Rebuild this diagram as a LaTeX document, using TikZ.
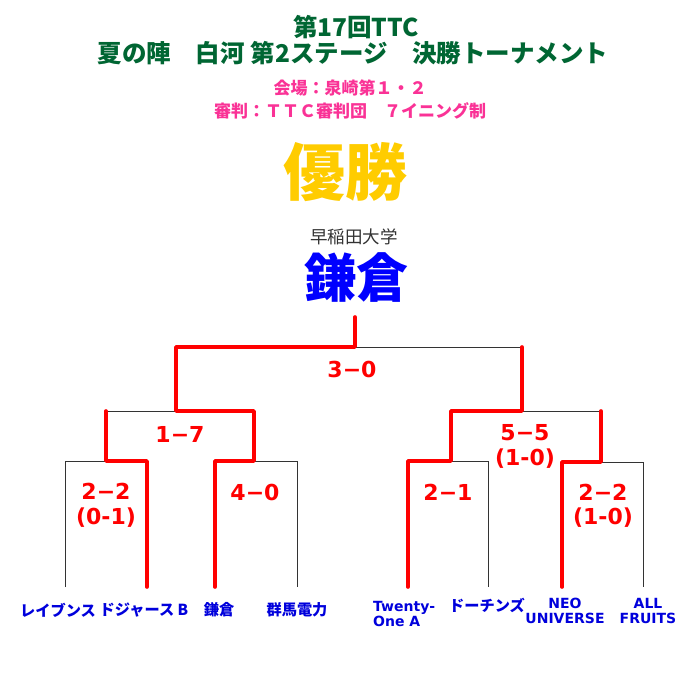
\documentclass[tikz,border=0pt]{standalone}
\usepackage{fontspec}
\newfontfamily\jp{Noto Sans CJK JP}
\newfontfamily\dv{DejaVu Sans}
\definecolor{ttlgreen}{RGB}{0,102,51}
\definecolor{ttlpink}{RGB}{250,50,150}
\definecolor{gold}{RGB}{255,204,0}
\definecolor{champblue}{RGB}{0,0,255}
\definecolor{teamblue}{RGB}{0,0,220}
\definecolor{winred}{RGB}{255,0,0}
\tikzset{
  bk/.style={draw=black!80, line width=0.8pt},
  rd/.style={draw=winred, line width=3.6pt, line cap=round, line join=round},
  score/.style={text=winred, font=\dv\bfseries\fontsize{22}{24}\selectfont, anchor=base, inner sep=0pt},
  teamjp/.style={text=teamblue, font=\jp\bfseries\fontsize{15.2}{16}\selectfont, inner sep=0pt},
  teamlat/.style={text=teamblue, font=\dv\bfseries\fontsize{14}{15}\selectfont, inner sep=0pt},
}
\begin{document}
\begin{tikzpicture}[x=1pt,y=-1pt]
\fill[white] (0,0) rectangle (700,700);
\useasboundingbox (0,0) rectangle (700,700);
% titles
\node[inner sep=0pt, text=ttlgreen, font=\jp\bfseries\fontsize{24.5}{26}\selectfont] (t1) at (356,27) {第17回TTC};
\node[inner sep=0pt, text=ttlgreen, font=\jp\bfseries\fontsize{24.5}{26}\selectfont] (t2) at (353,53) {夏の陣　白河 第2ステージ　決勝トーナメント};
\node[inner sep=0pt, text=ttlpink, font=\jp\bfseries\fontsize{17}{18}\selectfont] (p1) at (350,88) {会場：泉崎第１・２};
\node[inner sep=0pt, text=ttlpink, font=\jp\bfseries\fontsize{17}{18}\selectfont] (p2) at (350,111) {審判：ＴＴＣ審判団　７イニング制};
\node[inner sep=0pt, text=gold, font=\jp\bfseries\fontsize{62}{64}\selectfont] (win) at (345,172) {優勝};
\node[inner sep=0pt, text=black!80, font=\jp\fontsize{17.5}{19}\selectfont] (univ) at (354,237) {早稲田大学};
\node[inner sep=0pt, text=champblue, font=\jp\bfseries\fontsize{52}{54}\selectfont] (champ) at (356,278) {鎌倉};
% bracket coordinates
\coordinate (a1) at (65,587);  \coordinate (a1t) at (65,461);
\coordinate (a2) at (147,587); \coordinate (a2t) at (147,461);
\coordinate (a3) at (215,587); \coordinate (a3t) at (215,461);
\coordinate (a4) at (297,587); \coordinate (a4t) at (297,461);
\coordinate (a5) at (408,587); \coordinate (a5t) at (408,461);
\coordinate (a6) at (488,587); \coordinate (a6t) at (488,461);
\coordinate (a7) at (562,587); \coordinate (a7t) at (562,462);
\coordinate (a8) at (643,587); \coordinate (a8t) at (643,462);
\coordinate (m1) at (106,461); \coordinate (m1t) at (106,411);
\coordinate (m2) at (254,461); \coordinate (m2t) at (254,411);
\coordinate (m3) at (451,461); \coordinate (m3t) at (451,411);
\coordinate (m4) at (601,462); \coordinate (m4t) at (601,411);
\coordinate (s1) at (176,411); \coordinate (s1t) at (176,347);
\coordinate (s2) at (522,411); \coordinate (s2t) at (522,347);
\coordinate (f) at (355,347);  \coordinate (ft) at (355,317);
% black bracket
\draw[bk] (a1) -- (a1t) -- (a2t) -- (a2);
\draw[bk] (a3) -- (a3t) -- (a4t) -- (a4);
\draw[bk] (a5) -- (a5t) -- (a6t) -- (a6);
\draw[bk] (a7) -- (a7t) -- (a8t) -- (a8);
\draw[bk] (m1) -- (m1t) -- (m2t) -- (m2);
\draw[bk] (m3) -- (m3t) -- (m4t) -- (m4);
\draw[bk] (s1) -- (s1t) -- (s2t) -- (s2);
\draw[bk] (f) -- (ft);
% red winner paths
\draw[rd] (a2) -- (a2t) -- (m1) -- (m1t);
\draw[rd] (a3) -- (a3t) -- (m2) -- (m2t) -- (s1) -- (s1t) -- (f) -- (ft);
\draw[rd] (a5) -- (a5t) -- (m3) -- (m3t) -- (s2) -- (s2t);
\draw[rd] (a7) -- (a7t) -- (m4) -- (m4t);
% scores
\node[score] (sc0) at (352,377) {3−0};
\node[score] (sc1) at (180,442) {1−7};
\node[score] (sc2) at (525,440) {5−5};
\node[score] (sc2b) at (525,465) {(1-0)};
\node[score] (sc3) at (106,499) {2−2};
\node[score] (sc3b) at (106,524) {(0-1)};
\node[score] (sc4) at (255,500) {4−0};
\node[score] (sc5) at (448,500) {2−1};
\node[score] (sc6) at (603,500) {2−2};
\node[score] (sc6b) at (603,524) {(1-0)};
% teams
\node[teamjp] (n1) at (58,610) {レイブンス};
\node[teamjp] (n2) at (144,610) {ドジャース B};
\node[teamjp] (n3) at (219,610) {鎌倉};
\node[teamjp] (n4) at (297,610) {群馬電力};
\node[teamlat, align=left, anchor=west] (n5) at (373,614) {Twenty-\\One A};
\node[teamjp] (n6) at (487,605.5) {ドーチンズ};
\node[teamlat, align=center] (n7) at (565,611) {NEO\\UNIVERSE};
\node[teamlat, align=center] (n8) at (648,611) {ALL\\FRUITS};
\end{tikzpicture}
\end{document}
